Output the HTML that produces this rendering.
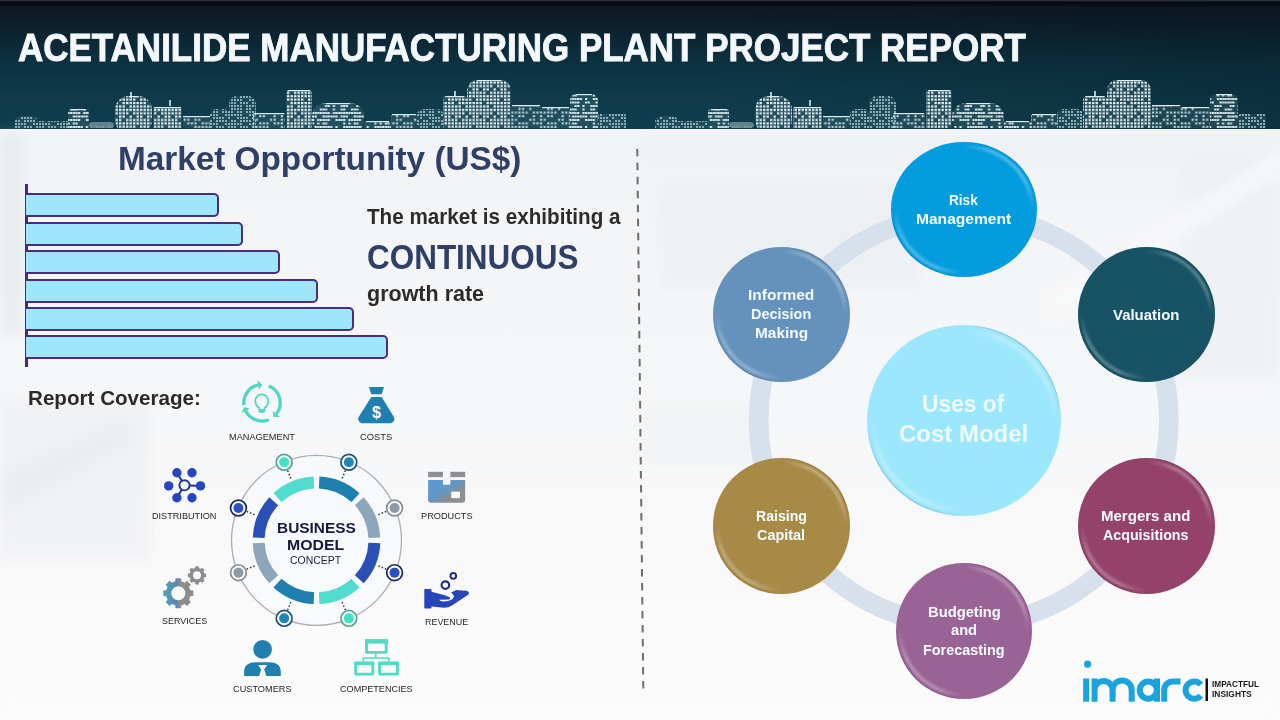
<!DOCTYPE html>
<html><head><meta charset="utf-8">
<style>
*{margin:0;padding:0;box-sizing:border-box}
html,body{width:1280px;height:720px;overflow:hidden;background:#f3f5f7;font-family:"Liberation Sans",sans-serif}
.abs{position:absolute}
#hdr{position:absolute;left:0;top:0;width:1280px;height:128.6px;background:linear-gradient(90deg,rgba(6,10,18,0) 0%,rgba(6,10,18,0) 55%,rgba(6,10,18,0.22) 100%),linear-gradient(180deg,#0c1620 0%,#0c2330 25%,#0d3242 50%,#0e3a4a 75%,#103e4e 100%);overflow:hidden}
#hdr .topband{position:absolute;left:0;top:0;width:1280px;height:7px;background:linear-gradient(180deg,#2a2f3c 0px,#2a2f3c 1px,#05080f 1.8px,#070b13 4px,rgba(12,22,32,0) 7px)}
#title{position:absolute;left:19px;top:26px;color:#f4f8fa;font-weight:bold;font-size:37px;white-space:nowrap;letter-spacing:0px}
#content{position:absolute;left:0;top:128.6px;width:1280px;height:592px;background:linear-gradient(180deg,#f1f3f5 0%,#f4f5f7 20%,#f6f7f8 50%,#f9f9fa 80%,#fbfbfb 100%)}
.t{position:absolute;white-space:nowrap;transform-origin:0 0;line-height:1}
.bar{position:absolute;left:26px;height:24px;background:#9fe6fb;border:2.7px solid #4a2c80;border-left:none;border-radius:0 5px 5px 0}
.circ{position:absolute;border-radius:50%;color:#fff;font-weight:bold;display:flex;align-items:center;justify-content:center;text-align:center}
.lbl{position:absolute;font-size:9.5px;color:#222;white-space:nowrap;text-align:center}
</style></head><body>
<div id="hdr"><div class="topband"></div>
<svg width="1280" height="128" style="position:absolute;left:0;top:0"><defs><pattern id="p_grid" width="28.0" height="27.2" patternUnits="userSpaceOnUse"><rect x="0.0" y="0.0" width="2.4" height="2.1" fill="#e2f0f3" opacity="1"/><rect x="3.5" y="0.0" width="2.4" height="2.1" fill="#e2f0f3" opacity="1"/><rect x="7.0" y="0.0" width="2.4" height="2.1" fill="#e2f0f3" opacity="1"/><rect x="10.5" y="0.0" width="2.4" height="2.1" fill="#e2f0f3" opacity="1"/><rect x="14.0" y="0.0" width="2.4" height="2.1" fill="#e2f0f3" opacity="1"/><rect x="17.5" y="0.0" width="2.4" height="2.1" fill="#e2f0f3" opacity="1"/><rect x="21.0" y="0.0" width="2.4" height="2.1" fill="#e2f0f3" opacity="1"/><rect x="24.5" y="0.0" width="2.4" height="2.1" fill="#e2f0f3" opacity="1"/><rect x="0.0" y="3.4" width="2.4" height="2.1" fill="#e2f0f3" opacity="1"/><rect x="3.5" y="3.4" width="2.4" height="2.1" fill="#e2f0f3" opacity="1"/><rect x="7.0" y="3.4" width="2.4" height="2.1" fill="#e2f0f3" opacity="1"/><rect x="10.5" y="3.4" width="2.4" height="2.1" fill="#e2f0f3" opacity="1"/><rect x="14.0" y="3.4" width="2.4" height="2.1" fill="#e2f0f3" opacity="1"/><rect x="21.0" y="3.4" width="2.4" height="2.1" fill="#e2f0f3" opacity="1"/><rect x="24.5" y="3.4" width="2.4" height="2.1" fill="#e2f0f3" opacity="1"/><rect x="0.0" y="6.8" width="2.4" height="2.1" fill="#e2f0f3" opacity="1"/><rect x="7.0" y="6.8" width="2.4" height="2.1" fill="#e2f0f3" opacity="1"/><rect x="10.5" y="6.8" width="2.4" height="2.1" fill="#e2f0f3" opacity="1"/><rect x="17.5" y="6.8" width="2.4" height="2.1" fill="#e2f0f3" opacity="1"/><rect x="24.5" y="6.8" width="2.4" height="2.1" fill="#e2f0f3" opacity="1"/><rect x="0.0" y="10.2" width="2.4" height="2.1" fill="#e2f0f3" opacity="1"/><rect x="3.5" y="10.2" width="2.4" height="2.1" fill="#e2f0f3" opacity="1"/><rect x="7.0" y="10.2" width="2.4" height="2.1" fill="#e2f0f3" opacity="1"/><rect x="14.0" y="10.2" width="2.4" height="2.1" fill="#e2f0f3" opacity="1"/><rect x="17.5" y="10.2" width="2.4" height="2.1" fill="#e2f0f3" opacity="1"/><rect x="21.0" y="10.2" width="2.4" height="2.1" fill="#e2f0f3" opacity="1"/><rect x="24.5" y="10.2" width="2.4" height="2.1" fill="#e2f0f3" opacity="1"/><rect x="0.0" y="13.6" width="2.4" height="2.1" fill="#e2f0f3" opacity="1"/><rect x="3.5" y="13.6" width="2.4" height="2.1" fill="#e2f0f3" opacity="1"/><rect x="7.0" y="13.6" width="2.4" height="2.1" fill="#e2f0f3" opacity="1"/><rect x="10.5" y="13.6" width="2.4" height="2.1" fill="#e2f0f3" opacity="1"/><rect x="14.0" y="13.6" width="2.4" height="2.1" fill="#e2f0f3" opacity="1"/><rect x="17.5" y="13.6" width="2.4" height="2.1" fill="#e2f0f3" opacity="1"/><rect x="21.0" y="13.6" width="2.4" height="2.1" fill="#e2f0f3" opacity="1"/><rect x="24.5" y="13.6" width="2.4" height="2.1" fill="#e2f0f3" opacity="1"/><rect x="0.0" y="17.0" width="2.4" height="2.1" fill="#e2f0f3" opacity="1"/><rect x="3.5" y="17.0" width="2.4" height="2.1" fill="#e2f0f3" opacity="1"/><rect x="7.0" y="17.0" width="2.4" height="2.1" fill="#e2f0f3" opacity="1"/><rect x="10.5" y="17.0" width="2.4" height="2.1" fill="#e2f0f3" opacity="1"/><rect x="14.0" y="17.0" width="2.4" height="2.1" fill="#e2f0f3" opacity="1"/><rect x="17.5" y="17.0" width="2.4" height="2.1" fill="#e2f0f3" opacity="1"/><rect x="21.0" y="17.0" width="2.4" height="2.1" fill="#e2f0f3" opacity="1"/><rect x="0.0" y="20.4" width="2.4" height="2.1" fill="#e2f0f3" opacity="1"/><rect x="3.5" y="20.4" width="2.4" height="2.1" fill="#e2f0f3" opacity="1"/><rect x="10.5" y="20.4" width="2.4" height="2.1" fill="#e2f0f3" opacity="1"/><rect x="14.0" y="20.4" width="2.4" height="2.1" fill="#e2f0f3" opacity="1"/><rect x="17.5" y="20.4" width="2.4" height="2.1" fill="#e2f0f3" opacity="1"/><rect x="21.0" y="20.4" width="2.4" height="2.1" fill="#e2f0f3" opacity="1"/><rect x="24.5" y="20.4" width="2.4" height="2.1" fill="#e2f0f3" opacity="1"/><rect x="0.0" y="23.8" width="2.4" height="2.1" fill="#e2f0f3" opacity="1"/><rect x="3.5" y="23.8" width="2.4" height="2.1" fill="#e2f0f3" opacity="1"/><rect x="7.0" y="23.8" width="2.4" height="2.1" fill="#e2f0f3" opacity="1"/><rect x="10.5" y="23.8" width="2.4" height="2.1" fill="#e2f0f3" opacity="1"/><rect x="17.5" y="23.8" width="2.4" height="2.1" fill="#e2f0f3" opacity="1"/><rect x="21.0" y="23.8" width="2.4" height="2.1" fill="#e2f0f3" opacity="1"/><rect x="24.5" y="23.8" width="2.4" height="2.1" fill="#e2f0f3" opacity="1"/></pattern><pattern id="p_grid2" width="28.8" height="28.8" patternUnits="userSpaceOnUse"><rect x="0.0" y="0.0" width="2.2" height="2.0" fill="#c2d9df" opacity="1"/><rect x="3.6" y="0.0" width="2.2" height="2.0" fill="#c2d9df" opacity="1"/><rect x="14.4" y="0.0" width="2.2" height="2.0" fill="#c2d9df" opacity="1"/><rect x="21.6" y="0.0" width="2.2" height="2.0" fill="#c2d9df" opacity="1"/><rect x="10.8" y="3.6" width="2.2" height="2.0" fill="#c2d9df" opacity="1"/><rect x="14.4" y="3.6" width="2.2" height="2.0" fill="#c2d9df" opacity="1"/><rect x="21.6" y="3.6" width="2.2" height="2.0" fill="#c2d9df" opacity="1"/><rect x="25.2" y="3.6" width="2.2" height="2.0" fill="#c2d9df" opacity="1"/><rect x="0.0" y="7.2" width="2.2" height="2.0" fill="#c2d9df" opacity="1"/><rect x="3.6" y="7.2" width="2.2" height="2.0" fill="#c2d9df" opacity="1"/><rect x="7.2" y="7.2" width="2.2" height="2.0" fill="#c2d9df" opacity="1"/><rect x="14.4" y="7.2" width="2.2" height="2.0" fill="#c2d9df" opacity="1"/><rect x="18.0" y="7.2" width="2.2" height="2.0" fill="#c2d9df" opacity="1"/><rect x="21.6" y="7.2" width="2.2" height="2.0" fill="#c2d9df" opacity="1"/><rect x="0.0" y="10.8" width="2.2" height="2.0" fill="#c2d9df" opacity="1"/><rect x="3.6" y="10.8" width="2.2" height="2.0" fill="#c2d9df" opacity="1"/><rect x="7.2" y="10.8" width="2.2" height="2.0" fill="#c2d9df" opacity="1"/><rect x="21.6" y="10.8" width="2.2" height="2.0" fill="#c2d9df" opacity="1"/><rect x="25.2" y="10.8" width="2.2" height="2.0" fill="#c2d9df" opacity="1"/><rect x="0.0" y="14.4" width="2.2" height="2.0" fill="#c2d9df" opacity="1"/><rect x="10.8" y="14.4" width="2.2" height="2.0" fill="#c2d9df" opacity="1"/><rect x="14.4" y="14.4" width="2.2" height="2.0" fill="#c2d9df" opacity="1"/><rect x="18.0" y="14.4" width="2.2" height="2.0" fill="#c2d9df" opacity="1"/><rect x="21.6" y="14.4" width="2.2" height="2.0" fill="#c2d9df" opacity="1"/><rect x="25.2" y="14.4" width="2.2" height="2.0" fill="#c2d9df" opacity="1"/><rect x="0.0" y="18.0" width="2.2" height="2.0" fill="#c2d9df" opacity="1"/><rect x="3.6" y="18.0" width="2.2" height="2.0" fill="#c2d9df" opacity="1"/><rect x="7.2" y="18.0" width="2.2" height="2.0" fill="#c2d9df" opacity="1"/><rect x="10.8" y="18.0" width="2.2" height="2.0" fill="#c2d9df" opacity="1"/><rect x="14.4" y="18.0" width="2.2" height="2.0" fill="#c2d9df" opacity="1"/><rect x="18.0" y="18.0" width="2.2" height="2.0" fill="#c2d9df" opacity="1"/><rect x="0.0" y="21.6" width="2.2" height="2.0" fill="#c2d9df" opacity="1"/><rect x="3.6" y="21.6" width="2.2" height="2.0" fill="#c2d9df" opacity="1"/><rect x="10.8" y="21.6" width="2.2" height="2.0" fill="#c2d9df" opacity="1"/><rect x="0.0" y="25.2" width="2.2" height="2.0" fill="#c2d9df" opacity="1"/><rect x="3.6" y="25.2" width="2.2" height="2.0" fill="#c2d9df" opacity="1"/><rect x="7.2" y="25.2" width="2.2" height="2.0" fill="#c2d9df" opacity="1"/><rect x="14.4" y="25.2" width="2.2" height="2.0" fill="#c2d9df" opacity="1"/><rect x="18.0" y="25.2" width="2.2" height="2.0" fill="#c2d9df" opacity="1"/><rect x="21.6" y="25.2" width="2.2" height="2.0" fill="#c2d9df" opacity="1"/><rect x="25.2" y="25.2" width="2.2" height="2.0" fill="#c2d9df" opacity="1"/></pattern><pattern id="p_stripes" width="31.200000000000003" height="28.0" patternUnits="userSpaceOnUse"><rect x="0.0" y="0.0" width="2.2" height="2.0" fill="#d6e8ec" opacity="1"/><rect x="2.6" y="0.0" width="2.2" height="2.0" fill="#d6e8ec" opacity="1"/><rect x="5.2" y="0.0" width="2.2" height="2.0" fill="#d6e8ec" opacity="1"/><rect x="7.8" y="0.0" width="2.2" height="2.0" fill="#d6e8ec" opacity="1"/><rect x="10.4" y="0.0" width="2.2" height="2.0" fill="#d6e8ec" opacity="1"/><rect x="13.0" y="0.0" width="2.2" height="2.0" fill="#d6e8ec" opacity="1"/><rect x="15.6" y="0.0" width="2.2" height="2.0" fill="#d6e8ec" opacity="1"/><rect x="20.8" y="0.0" width="2.2" height="2.0" fill="#d6e8ec" opacity="1"/><rect x="23.4" y="0.0" width="2.2" height="2.0" fill="#d6e8ec" opacity="1"/><rect x="26.0" y="0.0" width="2.2" height="2.0" fill="#d6e8ec" opacity="1"/><rect x="28.6" y="0.0" width="2.2" height="2.0" fill="#d6e8ec" opacity="1"/><rect x="0.0" y="3.5" width="2.2" height="2.0" fill="#d6e8ec" opacity="1"/><rect x="2.6" y="3.5" width="2.2" height="2.0" fill="#d6e8ec" opacity="1"/><rect x="10.4" y="3.5" width="2.2" height="2.0" fill="#d6e8ec" opacity="1"/><rect x="13.0" y="3.5" width="2.2" height="2.0" fill="#d6e8ec" opacity="1"/><rect x="15.6" y="3.5" width="2.2" height="2.0" fill="#d6e8ec" opacity="1"/><rect x="18.2" y="3.5" width="2.2" height="2.0" fill="#d6e8ec" opacity="1"/><rect x="20.8" y="3.5" width="2.2" height="2.0" fill="#d6e8ec" opacity="1"/><rect x="23.4" y="3.5" width="2.2" height="2.0" fill="#d6e8ec" opacity="1"/><rect x="28.6" y="3.5" width="2.2" height="2.0" fill="#d6e8ec" opacity="1"/><rect x="0.0" y="7.0" width="2.2" height="2.0" fill="#d6e8ec" opacity="1"/><rect x="5.2" y="7.0" width="2.2" height="2.0" fill="#d6e8ec" opacity="1"/><rect x="7.8" y="7.0" width="2.2" height="2.0" fill="#d6e8ec" opacity="1"/><rect x="10.4" y="7.0" width="2.2" height="2.0" fill="#d6e8ec" opacity="1"/><rect x="13.0" y="7.0" width="2.2" height="2.0" fill="#d6e8ec" opacity="1"/><rect x="15.6" y="7.0" width="2.2" height="2.0" fill="#d6e8ec" opacity="1"/><rect x="23.4" y="7.0" width="2.2" height="2.0" fill="#d6e8ec" opacity="1"/><rect x="26.0" y="7.0" width="2.2" height="2.0" fill="#d6e8ec" opacity="1"/><rect x="28.6" y="7.0" width="2.2" height="2.0" fill="#d6e8ec" opacity="1"/><rect x="0.0" y="10.5" width="2.2" height="2.0" fill="#d6e8ec" opacity="1"/><rect x="5.2" y="10.5" width="2.2" height="2.0" fill="#d6e8ec" opacity="1"/><rect x="10.4" y="10.5" width="2.2" height="2.0" fill="#d6e8ec" opacity="1"/><rect x="13.0" y="10.5" width="2.2" height="2.0" fill="#d6e8ec" opacity="1"/><rect x="0.0" y="14.0" width="2.2" height="2.0" fill="#d6e8ec" opacity="1"/><rect x="2.6" y="14.0" width="2.2" height="2.0" fill="#d6e8ec" opacity="1"/><rect x="5.2" y="14.0" width="2.2" height="2.0" fill="#d6e8ec" opacity="1"/><rect x="7.8" y="14.0" width="2.2" height="2.0" fill="#d6e8ec" opacity="1"/><rect x="10.4" y="14.0" width="2.2" height="2.0" fill="#d6e8ec" opacity="1"/><rect x="13.0" y="14.0" width="2.2" height="2.0" fill="#d6e8ec" opacity="1"/><rect x="15.6" y="14.0" width="2.2" height="2.0" fill="#d6e8ec" opacity="1"/><rect x="18.2" y="14.0" width="2.2" height="2.0" fill="#d6e8ec" opacity="1"/><rect x="23.4" y="14.0" width="2.2" height="2.0" fill="#d6e8ec" opacity="1"/><rect x="2.6" y="17.5" width="2.2" height="2.0" fill="#d6e8ec" opacity="1"/><rect x="5.2" y="17.5" width="2.2" height="2.0" fill="#d6e8ec" opacity="1"/><rect x="7.8" y="17.5" width="2.2" height="2.0" fill="#d6e8ec" opacity="1"/><rect x="10.4" y="17.5" width="2.2" height="2.0" fill="#d6e8ec" opacity="1"/><rect x="13.0" y="17.5" width="2.2" height="2.0" fill="#d6e8ec" opacity="1"/><rect x="15.6" y="17.5" width="2.2" height="2.0" fill="#d6e8ec" opacity="1"/><rect x="23.4" y="17.5" width="2.2" height="2.0" fill="#d6e8ec" opacity="1"/><rect x="26.0" y="17.5" width="2.2" height="2.0" fill="#d6e8ec" opacity="1"/><rect x="0.0" y="21.0" width="2.2" height="2.0" fill="#d6e8ec" opacity="1"/><rect x="2.6" y="21.0" width="2.2" height="2.0" fill="#d6e8ec" opacity="1"/><rect x="13.0" y="21.0" width="2.2" height="2.0" fill="#d6e8ec" opacity="1"/><rect x="15.6" y="21.0" width="2.2" height="2.0" fill="#d6e8ec" opacity="1"/><rect x="20.8" y="21.0" width="2.2" height="2.0" fill="#d6e8ec" opacity="1"/><rect x="28.6" y="21.0" width="2.2" height="2.0" fill="#d6e8ec" opacity="1"/><rect x="0.0" y="24.5" width="2.2" height="2.0" fill="#d6e8ec" opacity="1"/><rect x="7.8" y="24.5" width="2.2" height="2.0" fill="#d6e8ec" opacity="1"/><rect x="10.4" y="24.5" width="2.2" height="2.0" fill="#d6e8ec" opacity="1"/><rect x="13.0" y="24.5" width="2.2" height="2.0" fill="#d6e8ec" opacity="1"/><rect x="20.8" y="24.5" width="2.2" height="2.0" fill="#d6e8ec" opacity="1"/><rect x="28.6" y="24.5" width="2.2" height="2.0" fill="#d6e8ec" opacity="1"/></pattern><pattern id="p_dots" width="24.0" height="24.0" patternUnits="userSpaceOnUse"><rect x="0.0" y="0.0" width="2.0" height="2.0" fill="#88adb7" opacity="1"/><rect x="3.0" y="0.0" width="2.0" height="2.0" fill="#88adb7" opacity="1"/><rect x="6.0" y="0.0" width="2.0" height="2.0" fill="#88adb7" opacity="1"/><rect x="9.0" y="0.0" width="2.0" height="2.0" fill="#88adb7" opacity="1"/><rect x="15.0" y="0.0" width="2.0" height="2.0" fill="#88adb7" opacity="1"/><rect x="18.0" y="0.0" width="2.0" height="2.0" fill="#88adb7" opacity="1"/><rect x="0.0" y="3.0" width="2.0" height="2.0" fill="#88adb7" opacity="1"/><rect x="9.0" y="3.0" width="2.0" height="2.0" fill="#88adb7" opacity="1"/><rect x="12.0" y="3.0" width="2.0" height="2.0" fill="#88adb7" opacity="1"/><rect x="15.0" y="3.0" width="2.0" height="2.0" fill="#88adb7" opacity="1"/><rect x="18.0" y="3.0" width="2.0" height="2.0" fill="#88adb7" opacity="1"/><rect x="21.0" y="3.0" width="2.0" height="2.0" fill="#88adb7" opacity="1"/><rect x="0.0" y="6.0" width="2.0" height="2.0" fill="#88adb7" opacity="1"/><rect x="3.0" y="6.0" width="2.0" height="2.0" fill="#88adb7" opacity="1"/><rect x="6.0" y="6.0" width="2.0" height="2.0" fill="#88adb7" opacity="1"/><rect x="12.0" y="6.0" width="2.0" height="2.0" fill="#88adb7" opacity="1"/><rect x="15.0" y="6.0" width="2.0" height="2.0" fill="#88adb7" opacity="1"/><rect x="18.0" y="6.0" width="2.0" height="2.0" fill="#88adb7" opacity="1"/><rect x="0.0" y="9.0" width="2.0" height="2.0" fill="#88adb7" opacity="1"/><rect x="6.0" y="9.0" width="2.0" height="2.0" fill="#88adb7" opacity="1"/><rect x="9.0" y="9.0" width="2.0" height="2.0" fill="#88adb7" opacity="1"/><rect x="12.0" y="9.0" width="2.0" height="2.0" fill="#88adb7" opacity="1"/><rect x="15.0" y="9.0" width="2.0" height="2.0" fill="#88adb7" opacity="1"/><rect x="18.0" y="9.0" width="2.0" height="2.0" fill="#88adb7" opacity="1"/><rect x="21.0" y="9.0" width="2.0" height="2.0" fill="#88adb7" opacity="1"/><rect x="0.0" y="12.0" width="2.0" height="2.0" fill="#88adb7" opacity="1"/><rect x="6.0" y="12.0" width="2.0" height="2.0" fill="#88adb7" opacity="1"/><rect x="9.0" y="12.0" width="2.0" height="2.0" fill="#88adb7" opacity="1"/><rect x="15.0" y="12.0" width="2.0" height="2.0" fill="#88adb7" opacity="1"/><rect x="18.0" y="12.0" width="2.0" height="2.0" fill="#88adb7" opacity="1"/><rect x="21.0" y="12.0" width="2.0" height="2.0" fill="#88adb7" opacity="1"/><rect x="0.0" y="15.0" width="2.0" height="2.0" fill="#88adb7" opacity="1"/><rect x="6.0" y="15.0" width="2.0" height="2.0" fill="#88adb7" opacity="1"/><rect x="9.0" y="15.0" width="2.0" height="2.0" fill="#88adb7" opacity="1"/><rect x="12.0" y="15.0" width="2.0" height="2.0" fill="#88adb7" opacity="1"/><rect x="15.0" y="15.0" width="2.0" height="2.0" fill="#88adb7" opacity="1"/><rect x="21.0" y="15.0" width="2.0" height="2.0" fill="#88adb7" opacity="1"/><rect x="0.0" y="18.0" width="2.0" height="2.0" fill="#88adb7" opacity="1"/><rect x="9.0" y="18.0" width="2.0" height="2.0" fill="#88adb7" opacity="1"/><rect x="12.0" y="18.0" width="2.0" height="2.0" fill="#88adb7" opacity="1"/><rect x="15.0" y="18.0" width="2.0" height="2.0" fill="#88adb7" opacity="1"/><rect x="18.0" y="18.0" width="2.0" height="2.0" fill="#88adb7" opacity="1"/><rect x="21.0" y="18.0" width="2.0" height="2.0" fill="#88adb7" opacity="1"/><rect x="0.0" y="21.0" width="2.0" height="2.0" fill="#88adb7" opacity="1"/><rect x="3.0" y="21.0" width="2.0" height="2.0" fill="#88adb7" opacity="1"/><rect x="6.0" y="21.0" width="2.0" height="2.0" fill="#88adb7" opacity="1"/><rect x="12.0" y="21.0" width="2.0" height="2.0" fill="#88adb7" opacity="1"/><rect x="21.0" y="21.0" width="2.0" height="2.0" fill="#88adb7" opacity="1"/></pattern></defs><rect x="15" y="116" width="23" height="18" rx="6" fill="#9fc3cc" opacity="0.12"/><rect x="15" y="116" width="23" height="18" rx="6" fill="url(#p_dots)"/><rect x="38" y="121" width="30" height="13" rx="0" fill="#9fc3cc" opacity="0.12"/><rect x="38" y="121" width="30" height="13" rx="0" fill="url(#p_dots)"/><rect x="68" y="109" width="21" height="25" rx="3" fill="#9fc3cc" opacity="0.14"/><rect x="68" y="109" width="21" height="25" rx="3" fill="url(#p_stripes)"/><path d="M71,109.6 H86" stroke="#dcecf0" stroke-width="1.2"/><rect x="89" y="122" width="25" height="6" rx="4" fill="#6f8f99" opacity="0.85"/><rect x="89" y="126" width="25" height="6" fill="url(#p_dots)" opacity="0.5"/><rect x="115" y="96" width="37" height="38" rx="14" fill="#9fc3cc" opacity="0.16"/><rect x="115" y="96" width="37" height="38" rx="14" fill="url(#p_grid)"/><path d="M129,96.6 H138" stroke="#dcecf0" stroke-width="1.2"/><rect x="153" y="107" width="29" height="27" rx="1" fill="#9fc3cc" opacity="0.16"/><rect x="153" y="107" width="29" height="27" rx="1" fill="url(#p_grid)"/><path d="M154,107.6 H181" stroke="#dcecf0" stroke-width="1.2"/><rect x="183" y="116" width="27" height="18" rx="0" fill="#9fc3cc" opacity="0.12"/><rect x="183" y="116" width="27" height="18" rx="0" fill="url(#p_grid2)"/><path d="M183,116.6 H210" stroke="#dcecf0" stroke-width="1.2"/><rect x="210" y="109" width="20" height="25" rx="6" fill="#9fc3cc" opacity="0.12"/><rect x="210" y="109" width="20" height="25" rx="6" fill="url(#p_dots)"/><rect x="229" y="96" width="27" height="38" rx="8" fill="#9fc3cc" opacity="0.12"/><rect x="229" y="96" width="27" height="38" rx="8" fill="url(#p_dots)"/><rect x="253" y="113" width="32" height="21" rx="1" fill="#9fc3cc" opacity="0.12"/><rect x="253" y="113" width="32" height="21" rx="1" fill="url(#p_grid2)"/><path d="M254,113.6 H284" stroke="#dcecf0" stroke-width="1.2"/><rect x="286" y="90" width="26" height="44" rx="2" fill="#9fc3cc" opacity="0.16"/><rect x="286" y="90" width="26" height="44" rx="2" fill="url(#p_grid)"/><path d="M288,90.6 H310" stroke="#dcecf0" stroke-width="1.2"/><rect x="312" y="103" width="52" height="31" rx="14" fill="#9fc3cc" opacity="0.14"/><rect x="312" y="103" width="52" height="31" rx="14" fill="url(#p_stripes)"/><path d="M326,103.6 H350" stroke="#dcecf0" stroke-width="1.2"/><rect x="364" y="121" width="27" height="13" rx="2" fill="#9fc3cc" opacity="0.14"/><rect x="364" y="121" width="27" height="13" rx="2" fill="url(#p_stripes)"/><path d="M366,121.6 H389" stroke="#dcecf0" stroke-width="1.2"/><rect x="391" y="114" width="26" height="20" rx="1" fill="#9fc3cc" opacity="0.12"/><rect x="391" y="114" width="26" height="20" rx="1" fill="url(#p_grid2)"/><path d="M392,114.6 H416" stroke="#dcecf0" stroke-width="1.2"/><rect x="417" y="109" width="26" height="25" rx="6" fill="#9fc3cc" opacity="0.12"/><rect x="417" y="109" width="26" height="25" rx="6" fill="url(#p_dots)"/><rect x="443" y="96" width="24" height="38" rx="4" fill="#9fc3cc" opacity="0.16"/><rect x="443" y="96" width="24" height="38" rx="4" fill="url(#p_grid)"/><path d="M447,96.6 H463" stroke="#dcecf0" stroke-width="1.2"/><rect x="467" y="80" width="44" height="54" rx="10" fill="#9fc3cc" opacity="0.16"/><rect x="467" y="80" width="44" height="54" rx="10" fill="url(#p_grid)"/><path d="M477,80.6 H501" stroke="#dcecf0" stroke-width="1.2"/><rect x="511" y="105" width="30" height="29" rx="1" fill="#9fc3cc" opacity="0.12"/><rect x="511" y="105" width="30" height="29" rx="1" fill="url(#p_grid2)"/><path d="M512,105.6 H540" stroke="#dcecf0" stroke-width="1.2"/><rect x="541" y="107" width="29" height="27" rx="1" fill="#9fc3cc" opacity="0.12"/><rect x="541" y="107" width="29" height="27" rx="1" fill="url(#p_grid2)"/><path d="M542,107.6 H569" stroke="#dcecf0" stroke-width="1.2"/><rect x="570" y="94" width="28" height="40" rx="6" fill="#9fc3cc" opacity="0.14"/><rect x="570" y="94" width="28" height="40" rx="6" fill="url(#p_stripes)"/><path d="M576,94.6 H592" stroke="#dcecf0" stroke-width="1.2"/><rect x="598" y="114" width="28" height="20" rx="2" fill="#9fc3cc" opacity="0.12"/><rect x="598" y="114" width="28" height="20" rx="2" fill="url(#p_dots)"/><rect x="130.2" y="92" width="1.6" height="6" fill="#dcecf0"/><rect x="169.2" y="100" width="1.6" height="6" fill="#dcecf0"/><rect x="454.2" y="91" width="1.6" height="6" fill="#dcecf0"/><rect x="655" y="116" width="23" height="18" rx="6" fill="#9fc3cc" opacity="0.12"/><rect x="655" y="116" width="23" height="18" rx="6" fill="url(#p_dots)"/><rect x="678" y="121" width="30" height="13" rx="0" fill="#9fc3cc" opacity="0.12"/><rect x="678" y="121" width="30" height="13" rx="0" fill="url(#p_dots)"/><rect x="708" y="109" width="21" height="25" rx="3" fill="#9fc3cc" opacity="0.14"/><rect x="708" y="109" width="21" height="25" rx="3" fill="url(#p_stripes)"/><path d="M711,109.6 H726" stroke="#dcecf0" stroke-width="1.2"/><rect x="729" y="122" width="25" height="6" rx="4" fill="#6f8f99" opacity="0.85"/><rect x="729" y="126" width="25" height="6" fill="url(#p_dots)" opacity="0.5"/><rect x="755" y="96" width="37" height="38" rx="14" fill="#9fc3cc" opacity="0.16"/><rect x="755" y="96" width="37" height="38" rx="14" fill="url(#p_grid)"/><path d="M769,96.6 H778" stroke="#dcecf0" stroke-width="1.2"/><rect x="793" y="107" width="29" height="27" rx="1" fill="#9fc3cc" opacity="0.16"/><rect x="793" y="107" width="29" height="27" rx="1" fill="url(#p_grid)"/><path d="M794,107.6 H821" stroke="#dcecf0" stroke-width="1.2"/><rect x="823" y="116" width="27" height="18" rx="0" fill="#9fc3cc" opacity="0.12"/><rect x="823" y="116" width="27" height="18" rx="0" fill="url(#p_grid2)"/><path d="M823,116.6 H850" stroke="#dcecf0" stroke-width="1.2"/><rect x="850" y="109" width="20" height="25" rx="6" fill="#9fc3cc" opacity="0.12"/><rect x="850" y="109" width="20" height="25" rx="6" fill="url(#p_dots)"/><rect x="869" y="96" width="27" height="38" rx="8" fill="#9fc3cc" opacity="0.12"/><rect x="869" y="96" width="27" height="38" rx="8" fill="url(#p_dots)"/><rect x="893" y="113" width="32" height="21" rx="1" fill="#9fc3cc" opacity="0.12"/><rect x="893" y="113" width="32" height="21" rx="1" fill="url(#p_grid2)"/><path d="M894,113.6 H924" stroke="#dcecf0" stroke-width="1.2"/><rect x="926" y="90" width="26" height="44" rx="2" fill="#9fc3cc" opacity="0.16"/><rect x="926" y="90" width="26" height="44" rx="2" fill="url(#p_grid)"/><path d="M928,90.6 H950" stroke="#dcecf0" stroke-width="1.2"/><rect x="952" y="103" width="52" height="31" rx="14" fill="#9fc3cc" opacity="0.14"/><rect x="952" y="103" width="52" height="31" rx="14" fill="url(#p_stripes)"/><path d="M966,103.6 H990" stroke="#dcecf0" stroke-width="1.2"/><rect x="1004" y="121" width="27" height="13" rx="2" fill="#9fc3cc" opacity="0.14"/><rect x="1004" y="121" width="27" height="13" rx="2" fill="url(#p_stripes)"/><path d="M1006,121.6 H1029" stroke="#dcecf0" stroke-width="1.2"/><rect x="1031" y="114" width="26" height="20" rx="1" fill="#9fc3cc" opacity="0.12"/><rect x="1031" y="114" width="26" height="20" rx="1" fill="url(#p_grid2)"/><path d="M1032,114.6 H1056" stroke="#dcecf0" stroke-width="1.2"/><rect x="1057" y="109" width="26" height="25" rx="6" fill="#9fc3cc" opacity="0.12"/><rect x="1057" y="109" width="26" height="25" rx="6" fill="url(#p_dots)"/><rect x="1083" y="96" width="24" height="38" rx="4" fill="#9fc3cc" opacity="0.16"/><rect x="1083" y="96" width="24" height="38" rx="4" fill="url(#p_grid)"/><path d="M1087,96.6 H1103" stroke="#dcecf0" stroke-width="1.2"/><rect x="1107" y="80" width="44" height="54" rx="10" fill="#9fc3cc" opacity="0.16"/><rect x="1107" y="80" width="44" height="54" rx="10" fill="url(#p_grid)"/><path d="M1117,80.6 H1141" stroke="#dcecf0" stroke-width="1.2"/><rect x="1151" y="105" width="30" height="29" rx="1" fill="#9fc3cc" opacity="0.12"/><rect x="1151" y="105" width="30" height="29" rx="1" fill="url(#p_grid2)"/><path d="M1152,105.6 H1180" stroke="#dcecf0" stroke-width="1.2"/><rect x="1181" y="107" width="29" height="27" rx="1" fill="#9fc3cc" opacity="0.12"/><rect x="1181" y="107" width="29" height="27" rx="1" fill="url(#p_grid2)"/><path d="M1182,107.6 H1209" stroke="#dcecf0" stroke-width="1.2"/><rect x="1210" y="94" width="28" height="40" rx="6" fill="#9fc3cc" opacity="0.14"/><rect x="1210" y="94" width="28" height="40" rx="6" fill="url(#p_stripes)"/><path d="M1216,94.6 H1232" stroke="#dcecf0" stroke-width="1.2"/><rect x="1238" y="114" width="28" height="20" rx="2" fill="#9fc3cc" opacity="0.12"/><rect x="1238" y="114" width="28" height="20" rx="2" fill="url(#p_dots)"/><rect x="770.2" y="92" width="1.6" height="6" fill="#dcecf0"/><rect x="809.2" y="100" width="1.6" height="6" fill="#dcecf0"/><rect x="1094.2" y="91" width="1.6" height="6" fill="#dcecf0"/></svg>
</div>
<div id="content"></div>
<svg class="abs" style="left:0;top:0" width="1280" height="720"><defs><filter id="bl" x="-20%" y="-20%" width="140%" height="140%"><feGaussianBlur stdDeviation="6"/></filter></defs>
<g filter="url(#bl)" opacity="0.55">
<rect x="0" y="135" width="24" height="200" fill="#e2e6ea"/>
<rect x="0" y="400" width="150" height="160" fill="#eceef1"/>
<path d="M0,470 L120,420 L140,440 L0,520 Z" fill="#e3e7eb"/>
<rect x="640" y="140" width="640" height="26" fill="#edf0f3"/>
<rect x="660" y="180" width="260" height="110" fill="#e9ecf0"/>
<rect x="640" y="405" width="120" height="60" fill="#eef0f2"/>
<rect x="1180" y="160" width="100" height="220" fill="#eaedf0"/>
<path d="M1040,300 L1280,150 L1280,175 L1050,320 Z" fill="#f9fafb"/>
<rect x="0" y="600" width="1280" height="120" fill="#fcfcfc"/>
</g></svg>

<!-- left top -->
<div class="abs" style="left:25px;top:184px;width:3px;height:183px;background:#4b2a7c"></div>
<div class="bar" style="top:193px;width:193px"></div>
<div class="bar" style="top:221.5px;width:217px"></div>
<div class="bar" style="top:250px;width:254px"></div>
<div class="bar" style="top:278.5px;width:292px"></div>
<div class="bar" style="top:307px;width:328px"></div>
<div class="bar" style="top:335.2px;height:24.3px;width:362px"></div>


<svg class="abs" style="left:0;top:0" width="1280" height="720"><line x1="637.25" y1="148.75" x2="643.3" y2="688.75" stroke="#6e6e6e" stroke-width="2" stroke-dasharray="7.5,6.51"/></svg>


<svg width="1280" height="720" style="position:absolute;left:0;top:0"><circle cx="316.5" cy="540.3" r="85" fill="#f9fafb" fill-opacity="0.6" stroke="#a9adb3" stroke-width="1.3"/><path d="M319.13,482.46 A57.9,57.9 0 0 1 355.54,497.54" fill="none" stroke="#1f7fae" stroke-width="11.9"/><path d="M359.26,501.26 A57.9,57.9 0 0 1 374.34,537.67" fill="none" stroke="#8ea6ba" stroke-width="11.9"/><path d="M374.34,542.93 A57.9,57.9 0 0 1 359.26,579.34" fill="none" stroke="#2a4fb5" stroke-width="11.9"/><path d="M355.54,583.06 A57.9,57.9 0 0 1 319.13,598.14" fill="none" stroke="#50dccf" stroke-width="11.9"/><path d="M313.87,598.14 A57.9,57.9 0 0 1 277.46,583.06" fill="none" stroke="#1f7fae" stroke-width="11.9"/><path d="M273.74,579.34 A57.9,57.9 0 0 1 258.66,542.93" fill="none" stroke="#8ea6ba" stroke-width="11.9"/><path d="M258.66,537.67 A57.9,57.9 0 0 1 273.74,501.26" fill="none" stroke="#2a4fb5" stroke-width="11.9"/><path d="M277.46,497.54 A57.9,57.9 0 0 1 313.87,482.46" fill="none" stroke="#50dccf" stroke-width="11.9"/><line x1="342.14" y1="478.40" x2="345.58" y2="470.09" stroke="#333" stroke-width="1.5" stroke-dasharray="1.5,2"/><circle cx="348.84" cy="462.23" r="7.9" fill="#f7fbfc" stroke="#1f4e70" stroke-width="1.7"/><circle cx="348.84" cy="462.23" r="5" fill="#1f86b8"/><line x1="378.40" y1="514.66" x2="386.71" y2="511.22" stroke="#333" stroke-width="1.5" stroke-dasharray="1.5,2"/><circle cx="394.57" cy="507.96" r="7.9" fill="#f7fbfc" stroke="#8a8c8e" stroke-width="1.7"/><circle cx="394.57" cy="507.96" r="5" fill="#8d9ba6"/><line x1="378.40" y1="565.94" x2="386.71" y2="569.38" stroke="#333" stroke-width="1.5" stroke-dasharray="1.5,2"/><circle cx="394.57" cy="572.64" r="7.9" fill="#f7fbfc" stroke="#1d2556" stroke-width="1.7"/><circle cx="394.57" cy="572.64" r="5" fill="#2a4fc0"/><line x1="342.14" y1="602.20" x2="345.58" y2="610.51" stroke="#333" stroke-width="1.5" stroke-dasharray="1.5,2"/><circle cx="348.84" cy="618.37" r="7.9" fill="#f7fbfc" stroke="#5a9f94" stroke-width="1.7"/><circle cx="348.84" cy="618.37" r="5" fill="#3fe3c6"/><line x1="290.86" y1="602.20" x2="287.42" y2="610.51" stroke="#333" stroke-width="1.5" stroke-dasharray="1.5,2"/><circle cx="284.16" cy="618.37" r="7.9" fill="#f7fbfc" stroke="#1f4e70" stroke-width="1.7"/><circle cx="284.16" cy="618.37" r="5" fill="#1f86b8"/><line x1="254.60" y1="565.94" x2="246.29" y2="569.38" stroke="#333" stroke-width="1.5" stroke-dasharray="1.5,2"/><circle cx="238.43" cy="572.64" r="7.9" fill="#f7fbfc" stroke="#8a8c8e" stroke-width="1.7"/><circle cx="238.43" cy="572.64" r="5" fill="#8d9ba6"/><line x1="254.60" y1="514.66" x2="246.29" y2="511.22" stroke="#333" stroke-width="1.5" stroke-dasharray="1.5,2"/><circle cx="238.43" cy="507.96" r="7.9" fill="#f7fbfc" stroke="#1d2556" stroke-width="1.7"/><circle cx="238.43" cy="507.96" r="5" fill="#2a4fc0"/><line x1="290.86" y1="478.40" x2="287.42" y2="470.09" stroke="#333" stroke-width="1.5" stroke-dasharray="1.5,2"/><circle cx="284.16" cy="462.23" r="7.9" fill="#f7fbfc" stroke="#5a9f94" stroke-width="1.7"/><circle cx="284.16" cy="462.23" r="5" fill="#3fe3c6"/></svg><svg width="1280" height="720" style="position:absolute;left:0;top:0"><defs><linearGradient id="gearg" x1="0" y1="0" x2="1" y2="0"><stop offset="0" stop-color="#4aa6b0"/><stop offset="0.45" stop-color="#5f86b4"/><stop offset="0.55" stop-color="#8b8d91"/><stop offset="1" stop-color="#8b8d91"/></linearGradient><linearGradient id="boxg" x1="0" y1="0" x2="1" y2="1"><stop offset="0" stop-color="#5a9bd2"/><stop offset="0.45" stop-color="#6496c2"/><stop offset="0.72" stop-color="#8d8f93"/><stop offset="1" stop-color="#8d8f93"/></linearGradient></defs><path d="M243.98,405.33 A18.2,18.2 0 0 1 258.22,385.00" fill="none" stroke="#4ed8c4" stroke-width="3.3"/><path d="M257.22,380.30 L262.32,384.60 L259.21,389.69 Z" fill="#4ed8c4"/><path d="M268.82,385.93 A18.2,18.2 0 0 1 276.34,414.01" fill="none" stroke="#4ed8c4" stroke-width="3.3"/><path d="M280.12,416.96 L273.45,416.94 L272.56,411.05 Z" fill="#4ed8c4"/><path d="M268.82,419.67 A18.2,18.2 0 0 1 245.64,410.78" fill="none" stroke="#4ed8c4" stroke-width="3.3"/><path d="M241.33,412.88 L244.27,406.89 L249.96,408.67 Z" fill="#4ed8c4"/><path d="M259.3,411 V408 C256.5,406.2 255.3,403.6 255.3,400.9 A6.5,6.5 0 0 1 268.3,400.9 C268.3,403.6 267,406.2 264.5,408 V411 Z" fill="none" stroke="#4ed8c4" stroke-width="1.8" stroke-linejoin="round"/><rect x="259.3" y="409.2" width="5.2" height="3.6" fill="#4ed8c4"/><path d="M369,387 H384 L381.7,394.3 H371.3 Z" fill="#1f80b0"/><path d="M371.3,397 H381.7 L393.6,416.5 Q396,421 391,423.3 H361.5 Q356.5,421 359,416.5 Z" fill="#1f80b0"/><text x="376.4" y="418.3" font-family="Liberation Sans" font-weight="bold" font-size="16" fill="#fff" text-anchor="middle">$</text><line x1="184.5" y1="485.3" x2="176.9" y2="472.75" stroke="#1f3592" stroke-width="2"/><line x1="184.5" y1="485.3" x2="200.5" y2="485.9" stroke="#1f3592" stroke-width="2"/><line x1="184.5" y1="485.3" x2="176.9" y2="497.8" stroke="#1f3592" stroke-width="2"/><circle cx="176.9" cy="472.75" r="4.7" fill="#2447c0"/><circle cx="192" cy="472.75" r="4.7" fill="#2447c0"/><circle cx="168.7" cy="485.9" r="4.7" fill="#2447c0"/><circle cx="200.5" cy="485.9" r="4.7" fill="#2447c0"/><circle cx="176.9" cy="497.8" r="4.7" fill="#2447c0"/><circle cx="192" cy="497.8" r="4.7" fill="#2447c0"/><circle cx="184.5" cy="485.3" r="5.1" fill="#f4f6f9" stroke="#1f3592" stroke-width="1.9"/><rect x="428.1" y="471.8" width="14.9" height="5.3" fill="#8d8f93"/><rect x="450.3" y="471.8" width="14.9" height="5.3" fill="#8d8f93"/><path d="M428.1,480 H443 V484.7 H450.3 V480 H465.2 V499.5 Q465.2,502.75 462,502.75 H431.3 Q428.1,502.75 428.1,499.5 Z" fill="url(#boxg)"/><rect x="451.2" y="491.7" width="8.7" height="6.4" fill="#fff"/><path d="M173.96,581.69 L175.26,581.28 L175.51,578.26 L181.09,578.26 L181.34,581.28 L183.44,582.02 L184.65,582.65 L186.97,580.69 L190.91,584.63 L188.95,586.95 L189.91,588.96 L190.32,590.26 L193.34,590.51 L193.34,596.09 L190.32,596.34 L189.58,598.44 L188.95,599.65 L190.91,601.97 L186.97,605.91 L184.65,603.95 L182.64,604.91 L181.34,605.32 L181.09,608.34 L175.51,608.34 L175.26,605.32 L173.16,604.58 L171.95,603.95 L169.63,605.91 L165.69,601.97 L167.65,599.65 L166.69,597.64 L166.28,596.34 L163.26,596.09 L163.26,590.51 L166.28,590.26 L167.02,588.16 L167.65,586.95 L165.69,584.63 L169.63,580.69 L171.95,582.65 Z M185.30,593.30 A7.0,7.0 0 1 0 171.30,593.30 A7.0,7.0 0 1 0 185.30,593.30 Z" fill="url(#gearg)" fill-rule="evenodd"/><path d="M194.37,568.27 L195.16,568.03 L195.31,566.16 L198.69,566.16 L198.84,568.03 L200.11,568.48 L200.84,568.86 L202.27,567.64 L204.66,570.03 L203.44,571.46 L204.03,572.67 L204.27,573.46 L206.14,573.61 L206.14,576.99 L204.27,577.14 L203.82,578.41 L203.44,579.14 L204.66,580.57 L202.27,582.96 L200.84,581.74 L199.63,582.33 L198.84,582.57 L198.69,584.44 L195.31,584.44 L195.16,582.57 L193.89,582.12 L193.16,581.74 L191.73,582.96 L189.34,580.57 L190.56,579.14 L189.97,577.93 L189.73,577.14 L187.86,576.99 L187.86,573.61 L189.73,573.46 L190.18,572.19 L190.56,571.46 L189.34,570.03 L191.73,567.64 L193.16,568.86 Z M201.00,575.30 A4.0,4.0 0 1 0 193.00,575.30 A4.0,4.0 0 1 0 201.00,575.30 Z" fill="#8b8d91" fill-rule="evenodd"/><path d="M424.3,589.6 Q424.3,589.1 425,589.1 H430.5 Q431.3,589.1 431.5,590.5 L431.5,591.8 L442,594.5 Q447.5,596 449.8,597.2 Q451,598.8 448.5,599.5 L439,599.8 Q440.5,601.8 444,601.5 Q452.5,601 454,596.5 Q453.5,593.8 451,592.7 L455.5,590.3 Q457.5,589.6 459.5,590.6 Q461.5,589.8 463.5,590.8 Q466,590.2 468,591.5 Q469.8,593 468.5,594.5 L452,605.5 Q448.5,607.7 444,607.7 L431.5,606.6 V607.5 Q431.5,608.6 430.5,608.6 H425 Q424.3,608.6 424.3,607.8 Z" fill="#2545b8"/><circle cx="445.4" cy="585.1" r="3.8" fill="none" stroke="#22307c" stroke-width="2.2"/><circle cx="453.3" cy="575.9" r="2.8" fill="none" stroke="#22307c" stroke-width="2"/><circle cx="262.6" cy="649.4" r="9.3" fill="#1f80b0"/><path d="M244.1,675.9 V672 Q244.1,662.2 256,662.2 H269 Q280.8,662.2 280.8,672 V675.9 Z" fill="#1f80b0"/><path d="M258.1,665 H267.1 L264.2,669.5 L266.4,676 H259.1 L261.1,669.5 Z" fill="#f6f8fa"/><path d="M366.5,640.7 H386.2 V652.4 H366.5 Z" fill="none" stroke="#4edcc7" stroke-width="2.9" stroke-linejoin="round"/><rect x="365" y="639.2" width="22.7" height="4.4" fill="#4edcc7"/><path d="M375.8,653.8 V658 M363.4,661.5 V658 H388.7 V661.5" fill="none" stroke="#4edcc7" stroke-width="1.5"/><path d="M355.7,663.1 H372.8 V674.1 H355.7 Z M379.6,663.1 H397.4 V674.1 H379.6 Z" fill="none" stroke="#4edcc7" stroke-width="2.9" stroke-linejoin="round"/><rect x="354.2" y="661.6" width="20.1" height="3.6" fill="#4edcc7"/><rect x="378.1" y="661.6" width="20.8" height="3.6" fill="#4edcc7"/><circle cx="1087.6" cy="664.2" r="3.6" fill="#1ba3e0"/><g fill="none" stroke="#1ba3e0" stroke-width="6"><path d="M1086.1,678.5 V701.7"/><path d="M1094.6,701.7 V678.5 M1094.6,690 A8.5,8.5 0 0 1 1112.6,690 V701.7 M1112.6,690 A9,9 0 0 1 1131.7,690 V701.7"/><circle cx="1148.3" cy="690.1" r="8.6"/><path d="M1157,678.5 V701.7"/><path d="M1164.2,701.7 V690 A8.5,8.5 0 0 1 1172.7,681.5 H1180.5"/><path d="M1200.8,684.6 A8.6,8.6 0 1 0 1200.8,695.6"/></g><rect x="1205.5" y="678.5" width="2.5" height="22.5" fill="#111"/></svg>


<!-- right -->
<svg class="abs" style="left:0;top:0" width="1280" height="720"><circle cx="963.75" cy="420" r="205.1" fill="none" stroke="#d8e1eb" stroke-width="19.5"/></svg>

<div class="abs" style="left:891.1px;top:142.2px;width:145.6px;height:135px;border-radius:50%;background:#039ddf"></div>
<div class="abs" style="left:891.1px;top:142.2px;width:145.6px;height:135px;border-radius:50%;background:radial-gradient(ellipse closest-side,rgba(255,255,255,0) 0%,rgba(255,255,255,0) 88%,rgba(255,255,255,0.28) 94%,rgba(255,255,255,0) 98%,rgba(0,0,0,0.18) 100%);-webkit-mask-image:conic-gradient(transparent 0deg,#000 25deg,#000 65deg,transparent 90deg,transparent 180deg,#000 205deg,#000 245deg,transparent 270deg)"></div>
<div class="abs" style="left:713.3px;top:247.3px;width:136.5px;height:134.4px;border-radius:50%;background:#6592bd"></div>
<div class="abs" style="left:713.3px;top:247.3px;width:136.5px;height:134.4px;border-radius:50%;background:radial-gradient(ellipse closest-side,rgba(255,255,255,0) 0%,rgba(255,255,255,0) 88%,rgba(255,255,255,0.28) 94%,rgba(255,255,255,0) 98%,rgba(0,0,0,0.18) 100%);-webkit-mask-image:conic-gradient(transparent 0deg,#000 25deg,#000 65deg,transparent 90deg,transparent 180deg,#000 205deg,#000 245deg,transparent 270deg)"></div>
<div class="abs" style="left:1078.3px;top:247.3px;width:136.5px;height:134.4px;border-radius:50%;background:#175265"></div>
<div class="abs" style="left:1078.3px;top:247.3px;width:136.5px;height:134.4px;border-radius:50%;background:radial-gradient(ellipse closest-side,rgba(255,255,255,0) 0%,rgba(255,255,255,0) 88%,rgba(255,255,255,0.28) 94%,rgba(255,255,255,0) 98%,rgba(0,0,0,0.18) 100%);-webkit-mask-image:conic-gradient(transparent 0deg,#000 25deg,#000 65deg,transparent 90deg,transparent 180deg,#000 205deg,#000 245deg,transparent 270deg)"></div>
<div class="abs" style="left:867.3px;top:325.2px;width:193.3px;height:191px;border-radius:50%;background:#9be7fd"></div>
<div class="abs" style="left:867.3px;top:325.2px;width:193.3px;height:191px;border-radius:50%;background:radial-gradient(ellipse closest-side,rgba(255,255,255,0) 0%,rgba(255,255,255,0) 88%,rgba(255,255,255,0.28) 94%,rgba(255,255,255,0) 98%,rgba(0,0,0,0.18) 100%);-webkit-mask-image:conic-gradient(transparent 0deg,#000 25deg,#000 65deg,transparent 90deg,transparent 180deg,#000 205deg,#000 245deg,transparent 270deg)"></div>
<div class="abs" style="left:713.3px;top:458.3px;width:136.5px;height:135.5px;border-radius:50%;background:#a88a47"></div>
<div class="abs" style="left:713.3px;top:458.3px;width:136.5px;height:135.5px;border-radius:50%;background:radial-gradient(ellipse closest-side,rgba(255,255,255,0) 0%,rgba(255,255,255,0) 88%,rgba(255,255,255,0.28) 94%,rgba(255,255,255,0) 98%,rgba(0,0,0,0.18) 100%);-webkit-mask-image:conic-gradient(transparent 0deg,#000 25deg,#000 65deg,transparent 90deg,transparent 180deg,#000 205deg,#000 245deg,transparent 270deg)"></div>
<div class="abs" style="left:1078.3px;top:458.3px;width:136.5px;height:135.5px;border-radius:50%;background:#944269"></div>
<div class="abs" style="left:1078.3px;top:458.3px;width:136.5px;height:135.5px;border-radius:50%;background:radial-gradient(ellipse closest-side,rgba(255,255,255,0) 0%,rgba(255,255,255,0) 88%,rgba(255,255,255,0.28) 94%,rgba(255,255,255,0) 98%,rgba(0,0,0,0.18) 100%);-webkit-mask-image:conic-gradient(transparent 0deg,#000 25deg,#000 65deg,transparent 90deg,transparent 180deg,#000 205deg,#000 245deg,transparent 270deg)"></div>
<div class="abs" style="left:896.3px;top:563.3px;width:135.5px;height:135.5px;border-radius:50%;background:#9a6396"></div>
<div class="abs" style="left:896.3px;top:563.3px;width:135.5px;height:135.5px;border-radius:50%;background:radial-gradient(ellipse closest-side,rgba(255,255,255,0) 0%,rgba(255,255,255,0) 88%,rgba(255,255,255,0.28) 94%,rgba(255,255,255,0) 98%,rgba(0,0,0,0.18) 100%);-webkit-mask-image:conic-gradient(transparent 0deg,#000 25deg,#000 65deg,transparent 90deg,transparent 180deg,#000 205deg,#000 245deg,transparent 270deg)"></div>
<!-- logo -->
<div class="t" style="left:18.35px;top:28.61px;font-size:38.41px;font-weight:bold;color:#f4f8fa;transform:scaleX(0.9107);-webkit-text-stroke:0.9px #f4f8fa">ACETANILIDE MANUFACTURING PLANT PROJECT REPORT</div>
<div class="t" style="left:118.27px;top:140.65px;font-size:34.06px;font-weight:bold;color:#2e3f68;transform:scaleX(0.9781)">Market Opportunity (US$)</div>
<div class="t" style="left:366.99px;top:206.57px;font-size:21.45px;font-weight:bold;color:#2b2b2b;transform:scaleX(0.9628)">The market is exhibiting a</div>
<div class="t" style="left:367.04px;top:240.33px;font-size:34.2px;font-weight:bold;color:#2e3f68;transform:scaleX(0.9198)">CONTINUOUS</div>
<div class="t" style="left:366.74px;top:283.62px;font-size:21.51px;font-weight:bold;color:#2b2b2b;transform:scaleX(1.0001)">growth rate</div>
<div class="t" style="left:27.96px;top:388.43px;font-size:20.43px;font-weight:bold;color:#2b2b2b;transform:scaleX(1.0091)">Report Coverage:</div>
<div class="t" style="left:276.52px;top:520.61px;font-size:14.93px;font-weight:bold;color:#151a3b;transform:scaleX(1.0328)">BUSINESS</div>
<div class="t" style="left:287.19px;top:537.81px;font-size:14.93px;font-weight:bold;color:#151a3b;transform:scaleX(1.061)">MODEL</div>
<div class="t" style="left:290.08px;top:554.77px;font-size:11.45px;font-weight:normal;color:#1a1f40;transform:scaleX(0.9133)">CONCEPT</div>
<div class="t" style="left:228.96px;top:431.64px;font-size:9.6px;font-weight:normal;color:#262626;transform:scaleX(0.959)">MANAGEMENT</div>
<div class="t" style="left:360.13px;top:431.64px;font-size:9.6px;font-weight:normal;color:#262626;transform:scaleX(0.9733)">COSTS</div>
<div class="t" style="left:152.17px;top:510.54px;font-size:9.6px;font-weight:normal;color:#262626;transform:scaleX(0.951)">DISTRIBUTION</div>
<div class="t" style="left:420.96px;top:510.54px;font-size:9.6px;font-weight:normal;color:#262626;transform:scaleX(0.9582)">PRODUCTS</div>
<div class="t" style="left:162.05px;top:616.44px;font-size:9.6px;font-weight:normal;color:#262626;transform:scaleX(0.9341)">SERVICES</div>
<div class="t" style="left:425.28px;top:616.54px;font-size:9.6px;font-weight:normal;color:#262626;transform:scaleX(0.9311)">REVENUE</div>
<div class="t" style="left:232.84px;top:683.54px;font-size:9.6px;font-weight:normal;color:#262626;transform:scaleX(0.9587)">CUSTOMERS</div>
<div class="t" style="left:339.55px;top:683.54px;font-size:9.6px;font-weight:normal;color:#262626;transform:scaleX(0.9468)">COMPETENCIES</div>
<div class="t" style="left:948.85px;top:192.06px;font-size:15.1px;font-weight:bold;color:#f4fcff;transform:scaleX(0.9025)">Risk</div>
<div class="t" style="left:915.91px;top:210.76px;font-size:15.1px;font-weight:bold;color:#f4fcff;transform:scaleX(1.0313)">Management</div>
<div class="t" style="left:747.91px;top:287.06px;font-size:15.1px;font-weight:bold;color:#f4fcff;transform:scaleX(1.027)">Informed</div>
<div class="t" style="left:750.89px;top:306.06px;font-size:15.1px;font-weight:bold;color:#f4fcff;transform:scaleX(0.9573)">Decision</div>
<div class="t" style="left:754.72px;top:325.06px;font-size:15.1px;font-weight:bold;color:#f4fcff;transform:scaleX(1.0204)">Making</div>
<div class="t" style="left:1112.85px;top:306.77px;font-size:15.1px;font-weight:bold;color:#f4fcff;transform:scaleX(0.9896)">Valuation</div>
<div class="t" style="left:922.03px;top:392.1px;font-size:24.0px;font-weight:bold;color:#eefafe;transform:scaleX(0.9495)">Uses of</div>
<div class="t" style="left:899.04px;top:421.5px;font-size:24.0px;font-weight:bold;color:#eefafe;transform:scaleX(0.9991)">Cost Model</div>
<div class="t" style="left:756.01px;top:507.87px;font-size:15.1px;font-weight:bold;color:#f4fcff;transform:scaleX(0.9352)">Raising</div>
<div class="t" style="left:757.12px;top:527.06px;font-size:15.1px;font-weight:bold;color:#f4fcff;transform:scaleX(0.9564)">Capital</div>
<div class="t" style="left:1100.95px;top:508.06px;font-size:15.1px;font-weight:bold;color:#f4fcff;transform:scaleX(0.9951)">Mergers and</div>
<div class="t" style="left:1102.77px;top:526.96px;font-size:15.1px;font-weight:bold;color:#f4fcff;transform:scaleX(0.9437)">Acquisitions</div>
<div class="t" style="left:927.57px;top:604.06px;font-size:15.1px;font-weight:bold;color:#f4fcff;transform:scaleX(0.9762)">Budgeting</div>
<div class="t" style="left:950.96px;top:622.46px;font-size:15.1px;font-weight:bold;color:#f4fcff;transform:scaleX(0.9697)">and</div>
<div class="t" style="left:923.19px;top:641.96px;font-size:15.1px;font-weight:bold;color:#f4fcff;transform:scaleX(0.9545)">Forecasting</div>
<div class="t" style="left:1212.02px;top:679.84px;font-size:9.13px;font-weight:bold;color:#1a1a1a;transform:scaleX(0.9036)">IMPACTFUL</div>
<div class="t" style="left:1212.01px;top:690.01px;font-size:8.7px;font-weight:bold;color:#1a1a1a;transform:scaleX(0.9679)">INSIGHTS</div>
</body></html>
